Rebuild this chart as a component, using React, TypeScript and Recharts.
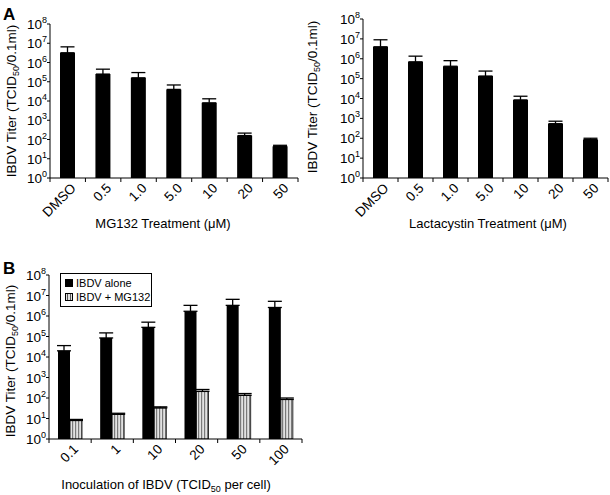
import React from 'react';
import { BarChart, Bar, XAxis, YAxis, ErrorBar, Legend } from 'recharts';

const FONT = '"Liberation Sans", Arial, Helvetica, sans-serif';

// Panel A: proteasome inhibitor treatments
const treatments = ['DMSO', '0.5', '1.0', '5.0', '10', '20', '50'];
const mg132Titer = [3.2e6, 2.5e5, 1.6e5, 4.0e4, 8.0e3, 160, 44];
const mg132Upper = [6.5e6, 4.5e5, 3.0e5, 6.8e4, 1.3e4, 215, 50];
const lactaTiter = [4.0e6, 7.0e5, 4.2e5, 1.35e5, 8.5e3, 540, 85];
const lactaUpper = [9.0e6, 1.35e6, 8.0e5, 2.4e5, 1.3e4, 720, 100];

// Panel B: inoculation dose
const inocula = ['0.1', '1', '10', '20', '50', '100'];
const aloneTiter = [2.0e4, 8.5e4, 2.8e5, 1.7e6, 3.3e6, 2.6e6];
const aloneUpper = [3.6e4, 1.5e5, 5.0e5, 3.3e6, 6.5e6, 5.2e6];
const withMgTiter = [8, 16, 33, 210, 135, 85];
const withMgUpper = [9, 18, 37, 260, 165, 100];

const logTicks = [1, 10, 100, 1e3, 1e4, 1e5, 1e6, 1e7, 1e8];

const mgData = treatments.map((name, i) => ({
  name,
  titer: mg132Titer[i],
  err: [0, mg132Upper[i] - mg132Titer[i]],
}));
const lactaData = treatments.map((name, i) => ({
  name,
  titer: lactaTiter[i],
  err: [0, lactaUpper[i] - lactaTiter[i]],
}));
const doseData = inocula.map((name, i) => ({
  name,
  alone: aloneTiter[i],
  aloneErr: [0, aloneUpper[i] - aloneTiter[i]],
  mg: withMgTiter[i],
  mgErr: [0, withMgUpper[i] - withMgTiter[i]],
}));

const PowerTick = (props: any) => {
  const { x, y, payload } = props;
  const exp = Math.round(Math.log10(payload.value));
  return (
    <text x={x} y={y + 5} textAnchor="end" fontFamily={FONT} fontSize={13.5} fill="#000">
      10<tspan dy={-6} fontSize={9}>{exp}</tspan>
    </text>
  );
};

// category labels rotated, tick marks between the categories
const CatTick = (props: any) => {
  const { x, y, payload, index, visibleTicksCount } = props;
  const half = payload?.offset ?? 0;
  const last = index === visibleTicksCount - 1;
  const tx = x + 9;
  const ty = y + 11;
  return (
    <g>
      <line x1={x - half} x2={x - half} y1={y} y2={y + 4} stroke="#000" />
      {last && <line x1={x + half} x2={x + half} y1={y} y2={y + 4} stroke="#000" />}
      <text
        x={tx}
        y={ty}
        textAnchor="end"
        transform={`rotate(-45 ${tx} ${ty})`}
        fontFamily={FONT}
        fontSize={13.5}
        fill="#000"
      >
        {payload.value}
      </text>
    </g>
  );
};

const YTitle = ({ x, y }: { x: number; y: number }) => (
  <text
    transform={`translate(${x},${y}) rotate(-90)`}
    textAnchor="middle"
    fontFamily={FONT}
    fontSize={13.5}
    fill="#000"
  >
    IBDV Titer (TCID<tspan fontSize={9} dy={3}>50</tspan>
    <tspan dy={-3}>/0.1ml)</tspan>
  </text>
);

const XTitle = ({ x, y, children }: { x: number; y: number; children: React.ReactNode }) => (
  <text x={x} y={y} textAnchor="middle" fontFamily={FONT} fontSize={13} fill="#000">
    {children}
  </text>
);

const Stripes = () => (
  <defs>
    <pattern id="vstripe" width="3" height="4" patternUnits="userSpaceOnUse">
      <rect x="0" y="0" width="3" height="4" fill="#e2e2e2" />
      <rect x="0" y="0" width="1.2" height="4" fill="#7a7a7a" />
    </pattern>
  </defs>
);

const seriesOrder = ['alone', 'mg'];

const LegendBox = (props: any) => {
  const items = [...(props.payload || [])].sort(
    (a: any, b: any) => seriesOrder.indexOf(a.dataKey) - seriesOrder.indexOf(b.dataKey)
  );
  return (
    <div
      style={{
        border: '1px solid #000',
        background: '#fff',
        padding: '2px 4px',
        fontFamily: FONT,
        fontSize: 11,
        lineHeight: '14px',
        boxSizing: 'border-box',
        width: 92,
        color: '#000',
      }}
    >
      {items.map((it: any) => (
        <div key={it.value} style={{ display: 'flex', alignItems: 'center', whiteSpace: 'nowrap' }}>
          <svg width={8} height={8} style={{ marginRight: 3, flexShrink: 0 }}>
            {it.dataKey === 'alone' ? (
              <rect x={0} y={0} width={8} height={8} fill="#000" />
            ) : (
              <g>
                <rect x={0.5} y={0.5} width={7} height={7} fill="#e2e2e2" stroke="#000" />
                <line x1={2.5} x2={2.5} y1={1} y2={7} stroke="#555" />
                <line x1={5.5} x2={5.5} y1={1} y2={7} stroke="#555" />
              </g>
            )}
          </svg>
          {it.value}
        </div>
      ))}
    </div>
  );
};

const PanelA = ({
  data,
  width,
  axisWidth,
  top,
  title,
  yTitle,
  xTitle,
}: {
  data: any[];
  width: number;
  axisWidth: number;
  top: number;
  title: string;
  yTitle: { x: number; y: number };
  xTitle: { x: number; y: number };
}) => (
  <BarChart width={width} height={240} data={data} margin={{ top, right: 2, bottom: 0, left: 0 }} barSize={15}>
    <XAxis
      dataKey="name"
      interval={0}
      height={62}
      axisLine={{ stroke: '#000' }}
      tickLine={false}
      tickSize={0}
      tickMargin={0}
      tick={<CatTick />}
      label={{ content: () => <XTitle x={xTitle.x} y={xTitle.y}>{title}</XTitle> }}
    />
    <YAxis
      scale="log"
      domain={[1, 1e8]}
      ticks={logTicks}
      interval={0}
      allowDataOverflow
      width={axisWidth}
      axisLine={{ stroke: '#000' }}
      tickLine={{ stroke: '#000' }}
      tickSize={3}
      tickMargin={0}
      tick={<PowerTick />}
      label={{ content: () => <YTitle x={yTitle.x} y={yTitle.y} /> }}
    />
    <Bar dataKey="titer" fill="#000" isAnimationActive={false}>
      <ErrorBar dataKey="err" width={7} stroke="#000" strokeWidth={1.3} direction="y" />
    </Bar>
  </BarChart>
);

export default function App() {
  return (
    <div
      style={{
        position: 'absolute',
        left: 0,
        top: 0,
        width: 610,
        height: 495,
        background: '#fff',
        overflow: 'hidden',
      }}
    >
      <div style={{ position: 'absolute', left: 3, top: 6, fontFamily: FONT, fontWeight: 'bold', fontSize: 17, lineHeight: 1 }}>
        A
      </div>
      <div style={{ position: 'absolute', left: 3, top: 260, fontFamily: FONT, fontWeight: 'bold', fontSize: 17, lineHeight: 1 }}>
        B
      </div>

      <div style={{ position: 'absolute', left: 0, top: 0 }}>
        <PanelA
          data={mgData}
          width={300}
          axisWidth={50}
          top={24}
          title="MG132 Treatment (μM)"
          yTitle={{ x: 16, y: 101 }}
          xTitle={{ x: 163, y: 228 }}
        />
      </div>

      <div style={{ position: 'absolute', left: 300, top: 0 }}>
        <PanelA
          data={lactaData}
          width={310}
          axisWidth={63}
          top={19}
          title="Lactacystin Treatment (μM)"
          yTitle={{ x: 17, y: 97 }}
          xTitle={{ x: 188, y: 228 }}
        />
      </div>

      <div style={{ position: 'absolute', left: 0, top: 240 }}>
        <BarChart
          width={330}
          height={255}
          data={doseData}
          margin={{ top: 35, right: 28, bottom: 0, left: 0 }}
          barSize={12}
          barGap={0}
        >
          <Stripes />
          <XAxis
            dataKey="name"
            interval={0}
            height={56}
            axisLine={{ stroke: '#000' }}
            tickLine={false}
            tickSize={0}
            tickMargin={0}
            tick={<CatTick />}
            label={{
              content: () => (
                <XTitle x={166} y={249}>
                  Inoculation of IBDV (TCID<tspan fontSize={9} dy={3}>50</tspan>
                  <tspan dy={-3}> per cell)</tspan>
                </XTitle>
              ),
            }}
          />
          <YAxis
            scale="log"
            domain={[1, 1e8]}
            ticks={logTicks}
            interval={0}
            allowDataOverflow
            width={49}
            axisLine={{ stroke: '#000' }}
            tickLine={{ stroke: '#000' }}
            tickSize={3}
            tickMargin={0}
            tick={<PowerTick />}
            label={{ content: () => <YTitle x={15} y={121} /> }}
          />
          <Legend
            layout="vertical"
            align="center"
            verticalAlign="middle"
            wrapperStyle={{ left: 60, top: 33, width: 92, height: 'auto' }}
            content={<LegendBox />}
          />
          <Bar dataKey="alone" name="IBDV alone" fill="#000" isAnimationActive={false}>
            <ErrorBar dataKey="aloneErr" width={7} stroke="#000" strokeWidth={1.3} direction="y" />
          </Bar>
          <Bar
            dataKey="mg"
            name="IBDV + MG132"
            fill="url(#vstripe)"
            stroke="#000"
            strokeWidth={0.8}
            isAnimationActive={false}
          >
            <ErrorBar dataKey="mgErr" width={7} stroke="#000" strokeWidth={1.3} direction="y" />
          </Bar>
        </BarChart>
      </div>
    </div>
  );
}
